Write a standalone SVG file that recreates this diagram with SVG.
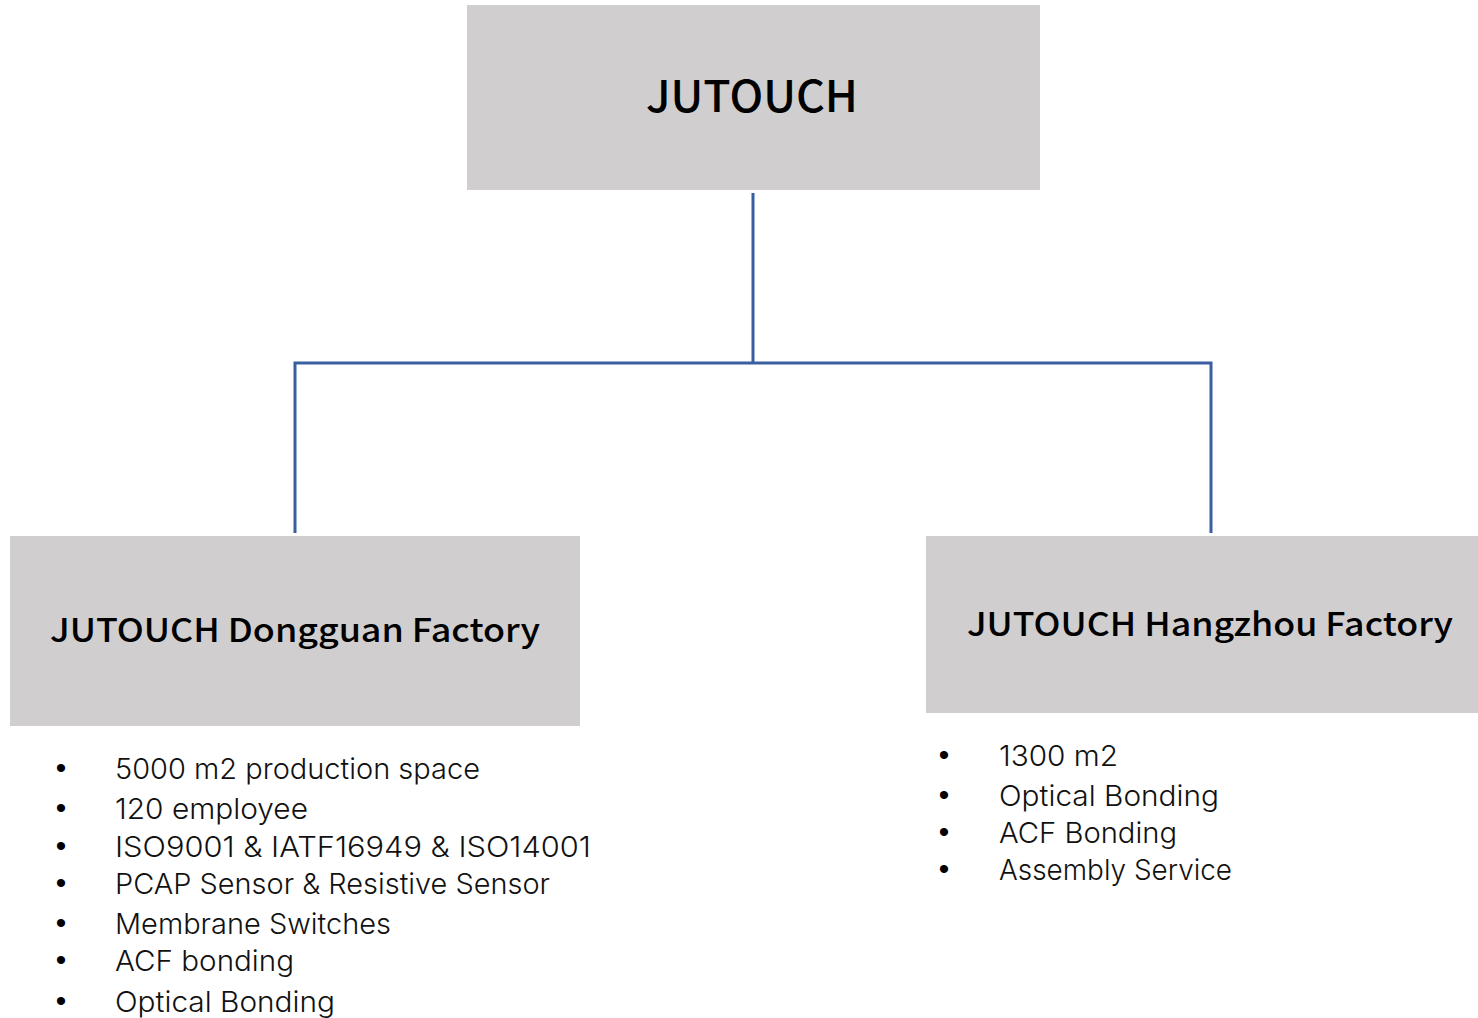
<svg xmlns="http://www.w3.org/2000/svg" width="1478" height="1018" viewBox="0 0 1478 1018">
<style>
.box{fill:#D0CECF;}
.conn{stroke:#3A5FA0;stroke-width:3;fill:none;}
.title{font-family:"Noto Sans CJK SC","Noto Sans",sans-serif;font-weight:500;fill:#000;}
.item{font-family:Inter,"Noto Sans",sans-serif;font-weight:300;font-size:29px;fill:#111;}
.bul{font-family:"Liberation Sans",sans-serif;font-size:30px;fill:#000;text-anchor:middle;}
</style>
<rect width="1478" height="1018" fill="#fff"/>
<g id="connectors">
<path class="conn" d="M753 193V363M295 533V363H1211V533"/>
</g>
<g id="root">
<rect class="box" x="467" y="5" width="573" height="185"/>
<text class="title" x="752" y="112" font-size="44" text-anchor="middle" textLength="212" lengthAdjust="spacingAndGlyphs">JUTOUCH</text>
</g>
<g id="dongguan">
<rect class="box" x="10" y="536" width="570" height="190"/>
<text class="title" x="50" y="642" font-size="33" textLength="490" lengthAdjust="spacingAndGlyphs">JUTOUCH Dongguan Factory</text>
</g>
<g id="hangzhou">
<rect class="box" x="926" y="536" width="552" height="177"/>
<text class="title" x="967" y="636" font-size="33" textLength="486" lengthAdjust="spacingAndGlyphs">JUTOUCH Hangzhou Factory</text>
</g>
<g id="dongguan-list">
<text class="bul" x="61" y="778">•</text><text class="item" x="115" y="779" textLength="365" lengthAdjust="spacingAndGlyphs">5000 m2 production space</text>
<text class="bul" x="61" y="818">•</text><text class="item" x="115" y="819" textLength="193" lengthAdjust="spacingAndGlyphs">120 employee</text>
<text class="bul" x="61" y="856">•</text><text class="item" x="115" y="857" textLength="476" lengthAdjust="spacingAndGlyphs">ISO9001 &amp; IATF16949 &amp; ISO14001</text>
<text class="bul" x="61" y="893">•</text><text class="item" x="115" y="894" textLength="435" lengthAdjust="spacingAndGlyphs">PCAP Sensor &amp; Resistive Sensor</text>
<text class="bul" x="61" y="933">•</text><text class="item" x="115" y="934" textLength="276" lengthAdjust="spacingAndGlyphs">Membrane Switches</text>
<text class="bul" x="61" y="970">•</text><text class="item" x="115" y="971" textLength="179" lengthAdjust="spacingAndGlyphs">ACF bonding</text>
<text class="bul" x="61" y="1011">•</text><text class="item" x="115" y="1012" textLength="220" lengthAdjust="spacingAndGlyphs">Optical Bonding</text>
</g>
<g id="hangzhou-list">
<text class="bul" x="944" y="765">•</text><text class="item" x="999" y="766" textLength="119" lengthAdjust="spacingAndGlyphs">1300 m2</text>
<text class="bul" x="944" y="805">•</text><text class="item" x="999" y="806" textLength="220" lengthAdjust="spacingAndGlyphs">Optical Bonding</text>
<text class="bul" x="944" y="842">•</text><text class="item" x="999" y="843" textLength="178" lengthAdjust="spacingAndGlyphs">ACF Bonding</text>
<text class="bul" x="944" y="879">•</text><text class="item" x="999" y="880" textLength="233" lengthAdjust="spacingAndGlyphs">Assembly Service</text>
</g>
</svg>
